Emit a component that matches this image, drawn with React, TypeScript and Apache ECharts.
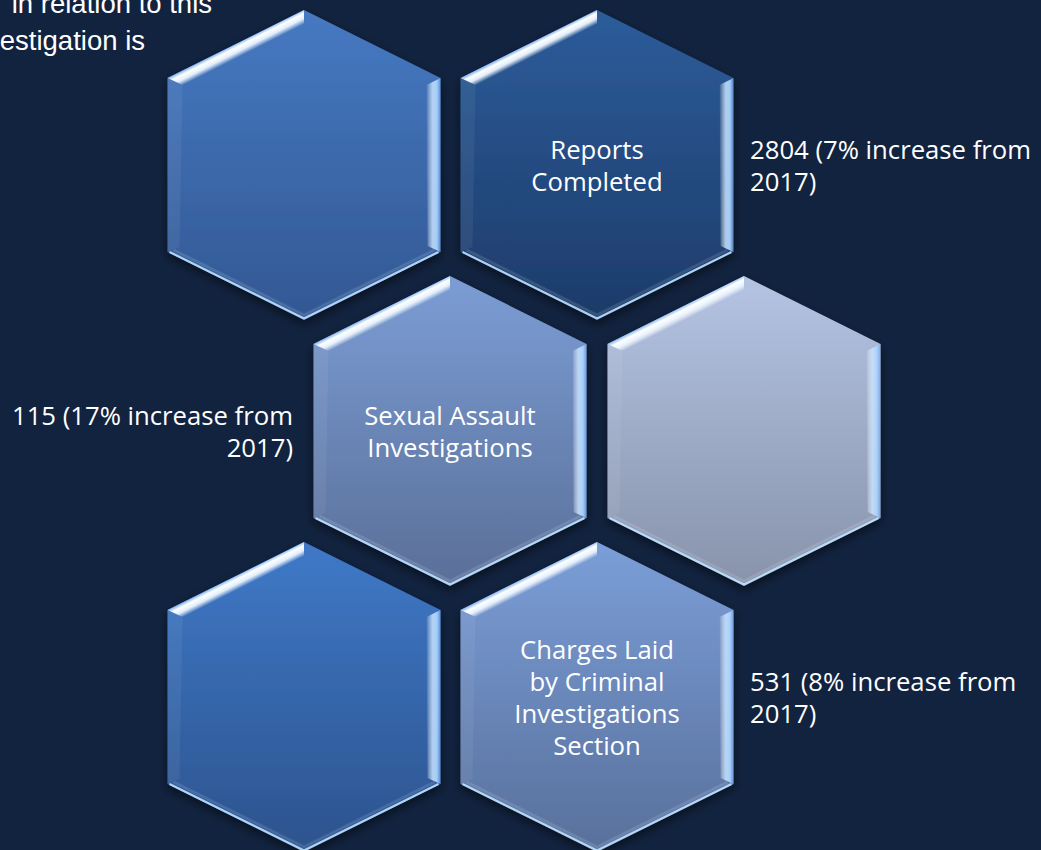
import React, { useEffect, useRef } from "react";
import * as echarts from "echarts";

// ---- Data ----
const categories = [
  "Reports Completed",
  "Sexual Assault Investigations",
  "Charges Laid by Criminal Investigations Section",
];
const counts = [2804, 115, 531];
const pctIncrease = [7, 17, 8];
const baseYear = 2017;
// line-wrapped labels as shown inside the hexagons
const hexLabelLines = [
  ["Reports", "Completed"],
  ["Sexual Assault", "Investigations"],
  ["Charges Laid", "by Criminal", "Investigations", "Section"],
];
const introLines = ["in relation to this", "estigation is"];

// ---- Layout (styles/positions) ----
const BG = "#12233f";
const HW = 136.5; // half width
const HH = 155; // half height (vertex)
const HS = 87; // side vertex offset
const FONT = "'Open Sans', sans-serif";
const FS = 25.7;
// hexagon cells: center, gradient colours, which category (or -1)
const cells = [
  { cx: 304, cy: 165, top: "#4679c2", bot: "#325893", cat: -1 },
  { cx: 597, cy: 165, top: "#2c5c9a", bot: "#1d3b69", cat: 0 },
  { cx: 450, cy: 431, top: "#7b9dd5", bot: "#5a6f98", cat: 1 },
  { cx: 744, cy: 431, top: "#b4c4e3", bot: "#8893ab", cat: -1 },
  { cx: 304, cy: 697, top: "#3f79c8", bot: "#2c538d", cat: -1 },
  { cx: 597, cy: 697, top: "#7b9ed8", bot: "#58709b", cat: 2 },
];
const sideLabel = [
  { x: 750, align: "left" },
  { x: 293, align: "right" },
  { x: 750, align: "left" },
];

function hexElements(c: any) {
  const { cx, cy, top, bot } = c;
  const T = [cx, cy - HH];
  const TR = [cx + HW, cy - HS];
  const BR = [cx + HW, cy + HS];
  const B = [cx, cy + HH];
  const BL = [cx - HW, cy + HS];
  const TL = [cx - HW, cy - HS];
  const els: any[] = [];
  els.push({
    type: "polygon",
    shape: { points: [T, TR, BR, B, BL, TL] },
    style: {
      fill: new echarts.graphic.LinearGradient(0, 0, 0, 1, [
        { offset: 0, color: top },
        { offset: 1, color: bot },
      ]),
      shadowBlur: 10,
      shadowOffsetY: 4,
      shadowColor: "rgba(0,0,0,0.55)",
    },
  });
  // top-left bevel (bright)
  const iT = [cx, cy - HH + 17];
  const iTL = [cx - HW + 15, cy - HS + 7];
  const mx = cx - HW / 2;
  const my = cy - (HH + HS) / 2;
  els.push({
    type: "polygon",
    shape: { points: [TL, T, iT, iTL] },
    style: {
      fill: new echarts.graphic.LinearGradient(
        mx,
        my,
        mx + 0.45 * 13,
        my + 0.89 * 13,
        [
          { offset: 0, color: "rgba(150,195,250,0.9)" },
          { offset: 0.25, color: "#ffffff" },
          { offset: 0.6, color: "rgba(235,245,255,0.95)" },
          { offset: 1, color: "rgba(255,255,255,0)" },
        ],
        true
      ),
    },
  });
  // right bevel
  const iTR = [cx + HW - 14, cy - HS + 7];
  const iBR = [cx + HW - 13, cy + HS - 6];
  els.push({
    type: "polygon",
    shape: { points: [TR, BR, iBR, iTR] },
    style: {
      fill: new echarts.graphic.LinearGradient(
        cx + HW - 14,
        0,
        cx + HW,
        0,
        [
          { offset: 0, color: "rgba(255,255,255,0.05)" },
          { offset: 0.45, color: "rgba(200,228,255,0.85)" },
          { offset: 0.75, color: "rgba(170,210,255,0.95)" },
          { offset: 1, color: "rgba(120,170,235,0.6)" },
        ],
        true
      ),
    },
  });
  // left subtle bevel
  els.push({
    type: "polygon",
    shape: { points: [TL, BL, [cx - HW + 12, cy + HS - 5], iTL] },
    style: { fill: "rgba(255,255,255,0.06)" },
  });
  // bottom bevels (thin light lines)
  els.push({
    type: "polyline",
    shape: { points: [[BL[0] + 2, BL[1]], [B[0], B[1] - 1.5], [BR[0] - 2, BR[1]]] },
    style: { stroke: "rgba(190,225,255,0.9)", lineWidth: 2.2, fill: null },
  });
  els.push({
    type: "polyline",
    shape: { points: [[BL[0] + 6, BL[1] - 2], [B[0], B[1] - 5], [BR[0] - 6, BR[1] - 2]] },
    style: { stroke: "rgba(255,255,255,0.12)", lineWidth: 3, fill: null },
  });
  return els;
}

export default function App() {
  const ref = useRef<HTMLDivElement>(null);
  useEffect(() => {
    document.body.style.margin = "0";
    document.body.style.background = BG;
    const chart = echarts.init(ref.current!, null, { renderer: "svg" });
    const graphic: any[] = [];
    cells.forEach((c) => graphic.push(...hexElements(c)));
    // texts inside hexagons
    cells.forEach((c) => {
      if (c.cat < 0) return;
      const lines = hexLabelLines[c.cat];
      graphic.push({
        type: "text",
        style: {
          text: lines.join("\n"),
          x: c.cx,
          y: c.cy,
          align: "center",
          verticalAlign: "middle",
          fill: "#ffffff",
          fontFamily: FONT,
          fontSize: FS,
          lineHeight: 32,
        },
      });
      const s = sideLabel[c.cat];
      graphic.push({
        type: "text",
        style: {
          text: `${counts[c.cat]} (${pctIncrease[c.cat]}% increase from\n${baseYear})`,
          x: s.x,
          y: c.cy,
          align: s.align,
          verticalAlign: "middle",
          fill: "#ffffff",
          fontFamily: FONT,
          fontSize: FS,
          lineHeight: 32,
        },
      });
    });
    // clipped intro text at top-left
    const introRight = [212, 145];
    const introY = [3, 40];
    introLines.forEach((t, i) => {
      graphic.push({
        type: "text",
        style: {
          text: t,
          x: introRight[i],
          y: introY[i],
          align: "right",
          verticalAlign: "middle",
          fill: "#ffffff",
          fontFamily: "'Liberation Sans', Arial, sans-serif",
          fontSize: 27.5,
        },
      });
    });
    chart.setOption({
      animation: false,
      backgroundColor: BG,
      graphic,
    });
    return () => chart.dispose();
  }, []);
  return <div ref={ref} style={{ width: 1041, height: 850 }} />;
}
